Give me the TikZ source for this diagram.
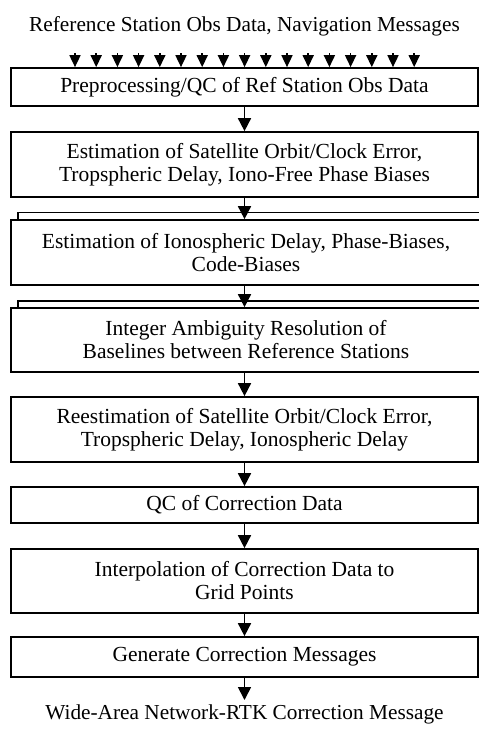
\documentclass[tikz,border=0pt]{standalone}
\usepackage{fontspec}
\setmainfont{Liberation Serif}
\usetikzlibrary{arrows.meta}
\begin{document}
\begin{tikzpicture}[x=1pt,y=-1pt,
  box/.style={draw,line width=1.7pt,fill=white,align=center,inner sep=0pt,
    font=\fontsize{21.5}{23}\selectfont},
  arr/.style={line width=1.7pt,-{Triangle[width=13pt,length=13pt]}},
  sarr/.style={line width=1.7pt,-{Triangle[width=11pt,length=12pt]}},
  lbl/.style={font=\fontsize{21.3}{23}\selectfont,inner sep=0pt}]
\useasboundingbox (0,0) rectangle (479,729);
\node[lbl] (in) at (244.5,26) {Reference Station Obs Data, Navigation Messages};
% box 1
\node[box,minimum width=467pt,minimum height=38pt] (b1) at (244.5,87) {Preprocessing/QC of Ref Station Obs Data};
\foreach \i in {0,...,16} {
  \coordinate (t\i) at ({75+21.2*\i},53);
  \draw[sarr] (t\i) -- (t\i |- b1.north);
}
\node[box,minimum width=467pt,minimum height=65pt] (b2) at (244.5,164.5) {Estimation of Satellite Orbit/Clock Error,\\Tropspheric Delay, Iono-Free Phase Biases};
% box 3 stacked
\node[box,minimum width=470pt,minimum height=65pt] (b3back) at (253,245) {};
\node[box,minimum width=470pt,minimum height=65pt] (b3) at (246,252.5) {Estimation of Ionospheric Delay, Phase-Biases,\\Code-Biases};
% box 4 stacked
\node[box,minimum width=470pt,minimum height=64pt] (b4back) at (253,333) {};
\node[box,minimum width=470pt,minimum height=64pt] (b4) at (246,340) {Integer Ambiguity Resolution of\\Baselines between Reference Stations};
\node[box,minimum width=467pt,minimum height=65pt] (b5) at (244.5,429.5) {Reestimation of Satellite Orbit/Clock Error,\\Tropspheric Delay, Ionospheric Delay};
\node[box,minimum width=467pt,minimum height=36pt] (b6) at (244.5,505) {QC of Correction Data};
\node[box,minimum width=467pt,minimum height=64pt] (b7) at (244.5,581) {Interpolation of Correction Data to\\Grid Points};
\node[box,minimum width=467pt,minimum height=40pt] (b8) at (244.5,657) {Generate Correction Messages};
\node[lbl] (out) at (244.5,714) {Wide-Area Network-RTK Correction Message};
\coordinate (o) at (244.5,700);
\draw[arr] (b1.south) -- (b2.north);
\draw[arr] (b2.south) -- (b2.south |- b3.north);
\draw[arr] (b2.south |- b3.south) -- (b2.south |- b4.north);
\draw[arr] (b2.south |- b4.south) -- (b5.north);
\draw[arr] (b5.south) -- (b6.north);
\draw[arr] (b6.south) -- (b7.north);
\draw[arr] (b7.south) -- (b8.north);
\draw[arr] (b8.south) -- (o);
\end{tikzpicture}
\end{document}
